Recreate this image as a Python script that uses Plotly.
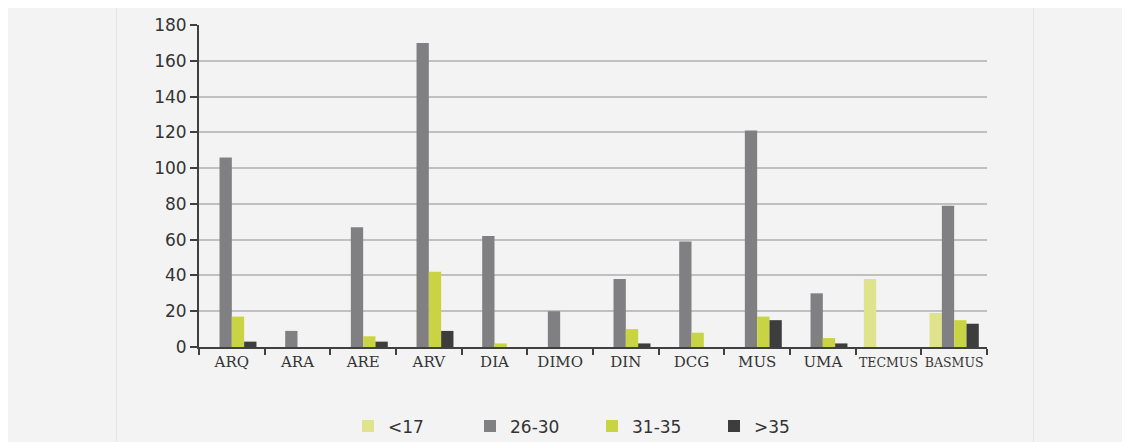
import plotly.graph_objects as go

categories = ["ARQ", "ARA", "ARE", "ARV", "DIA", "DIMO", "DIN", "DCG", "MUS", "UMA", "TECMUS", "BASMUS"]
series_names = ["<17", "26-30", "31-35", ">35"]
v_lt17 = [0, 0, 0, 0, 0, 0, 0, 0, 0, 0, 38, 19]
v_26_30 = [106, 9, 67, 170, 62, 20, 38, 59, 121, 30, 0, 79]
v_31_35 = [17, 0, 6, 42, 2, 0, 10, 8, 17, 5, 0, 15]
v_gt35 = [3, 0, 3, 9, 0, 0, 2, 0, 15, 2, 0, 13]
colors = ["#dfe38d", "#808083", "#c9d444", "#3d3d3d"]
y_ticks = [0, 20, 40, 60, 80, 100, 120, 140, 160, 180]

small_labels = {"TECMUS", "BASMUS"}
tick_text = [f'<span style="font-size:12.5px">{c}</span>' if c in small_labels else c for c in categories]

fig = go.Figure()
for name, vals, col in zip(series_names, [v_lt17, v_26_30, v_31_35, v_gt35], colors):
    fig.add_trace(go.Bar(x=categories, y=vals, name=name, marker=dict(color=col, line=dict(width=0))))

# layout geometry (figure pixels; page adds an 8px body margin)
W, H = 1130, 442
L, T = 191, 17
R = W - 979
B = H - 339.5
pw, ph = W - L - R, H - T - B

def px(x):
    return (x - L) / pw

def py(y):
    return (H - B - y) / ph

shapes = [
    dict(type="line", xref="paper", yref="paper", x0=px(108.5), x1=px(108.5), y0=py(-5), y1=py(H + 5),
         line=dict(color="#e4e4e4", width=1), layer="below"),
    dict(type="line", xref="paper", yref="paper", x0=px(1025.5), x1=px(1025.5), y0=py(-5), y1=py(H + 5),
         line=dict(color="#e4e4e4", width=1), layer="below"),
]

fig.update_layout(
    width=W, height=H,
    margin=dict(l=L, r=R, t=T, b=B, pad=0, autoexpand=False),
    paper_bgcolor="#f3f3f3", plot_bgcolor="#f3f3f3",
    barmode="group", bargap=0.25, bargroupgap=0,
    shapes=shapes,
    showlegend=True,
    legend=dict(orientation="h", x=px(340), xanchor="left", y=py(419), yanchor="middle",
                font=dict(family="DejaVu Sans", size=17, color="#333333"),
                entrywidth=77, entrywidthmode="pixels", bgcolor="rgba(0,0,0,0)", traceorder="normal"),
    xaxis=dict(type="category", tickmode="array", tickvals=categories, ticktext=tick_text,
               tickson="boundaries", ticks="outside", ticklen=6, tickwidth=2, tickcolor="#404040",
               showline=True, linecolor="#404040", linewidth=2, showgrid=False, tickangle=0,
               automargin=False,
               tickfont=dict(family="DejaVu Serif", size=15, color="#333333")),
    yaxis=dict(range=[0, 180], tickmode="array", tickvals=y_ticks, ticks="outside", ticklen=7,
               tickwidth=1.5, tickcolor="#404040", showline=True, linecolor="#404040", linewidth=2,
               showgrid=True, gridcolor="#c0c0c0", gridwidth=1.5, zeroline=False, automargin=False,
               tickfont=dict(family="DejaVu Sans", size=17, color="#333333")),
)

fig.write_html("out.html")
